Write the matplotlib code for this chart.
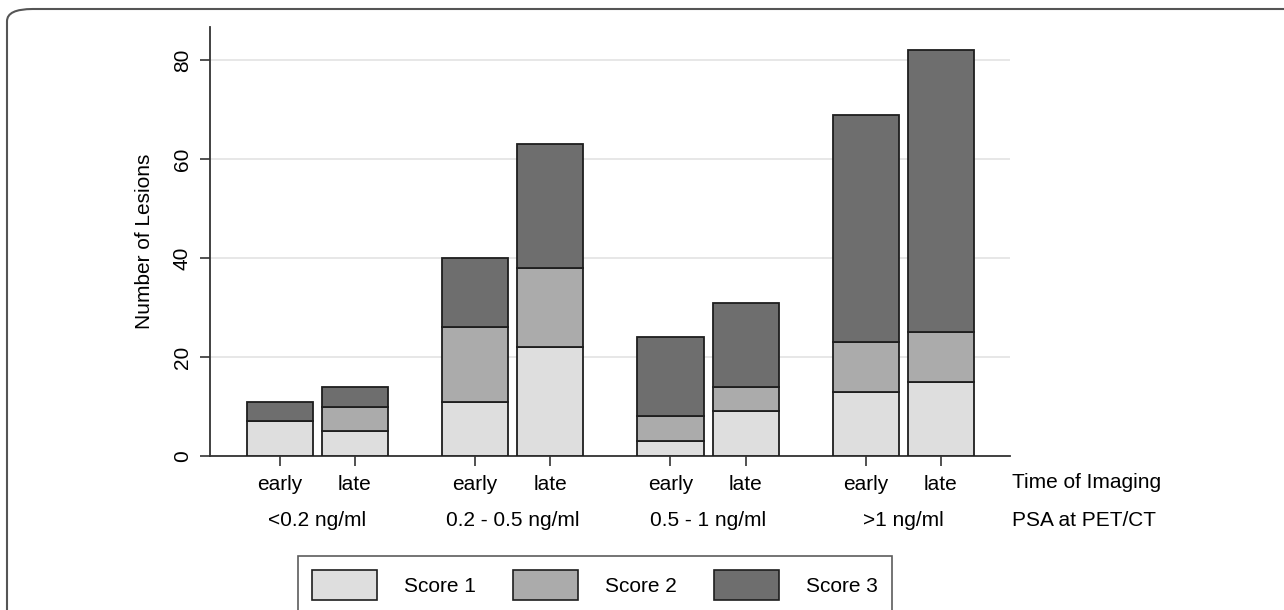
import numpy as np
import matplotlib
matplotlib.use("Agg")
from matplotlib import pyplot as plt
from matplotlib.patches import FancyBboxPatch, Patch
from matplotlib.transforms import blended_transform_factory

plt.rcParams['font.family'] = ['Liberation Sans', 'DejaVu Sans']
plt.rcParams['font.size'] = 15

# data
groups = ['<0.2 ng/ml', '0.2 - 0.5 ng/ml', '0.5 - 1 ng/ml', '>1 ng/ml']
times = ['early', 'late']
score1 = [7, 5, 11, 22, 3, 9, 13, 15]
score2 = [0, 5, 15, 16, 5, 5, 10, 10]
score3 = [4, 4, 14, 25, 16, 17, 46, 57]
score_names = ['Score 1', 'Score 2', 'Score 3']
score_colors = ['#dedede', '#ababab', '#6e6e6e']


def main():
    fig = plt.figure(figsize=(12.84, 6.10), dpi=100)
    ax = fig.add_axes([210/1284, 154/610, 800/1284, 429/610])

    # bar positions: pairs of bars, groups spaced apart
    pos = np.array([g*2.6 + j for g in range(len(groups)) for j in range(len(times))])
    s1 = np.array(score1)
    s2 = np.array(score2)
    s3 = np.array(score3)
    kw = dict(width=0.88, edgecolor='#1e1e1e', linewidth=1.3, zorder=3)
    ax.bar(pos, s1, color=score_colors[0], **kw)
    ax.bar(pos, s2, bottom=s1, color=score_colors[1], **kw)
    ax.bar(pos, s3, bottom=s1+s2, color=score_colors[2], **kw)

    ax.set_xlim(pos[0]-0.93, pos[-1]+0.92)
    ax.set_ylim(0, 86.7)
    ax.set_yticks([0, 20, 40, 60, 80])
    ax.set_yticklabels(['0', '20', '40', '60', '80'], rotation=90, va='center')
    ax.set_xticks(pos)
    ax.set_xticklabels(times*len(groups))
    ax.tick_params(axis='x', length=7, width=1.2, color='#333333', pad=7)
    ax.tick_params(axis='y', length=7, width=1.2, color='#333333', pad=6)
    ax.grid(axis='y', color='#e3e3e3', linewidth=1.2, zorder=0)
    for s in ['top', 'right']:
        ax.spines[s].set_visible(False)
    for s in ['left', 'bottom']:
        ax.spines[s].set_color('#333333')
        ax.spines[s].set_linewidth(1.3)
    ax.set_ylabel('Number of Lesions', labelpad=14)

    # group labels and row captions under the axis
    trans = blended_transform_factory(ax.transData, fig.transFigure)
    for g, name in enumerate(groups):
        xc = (pos[2*g] + pos[2*g+1]) / 2
        ax.text(xc, 1-520/610, name, transform=trans, ha='center', va='center')
    fig.text(1012/1284, 1-482/610, 'Time of Imaging', ha='left', va='center')
    fig.text(1012/1284, 1-520/610, 'PSA at PET/CT', ha='left', va='center')

    handles = [Patch(facecolor=c, edgecolor='#1e1e1e', linewidth=1.2) for c in score_colors]
    leg = fig.legend(handles, score_names, ncol=3, loc='center',
                     bbox_to_anchor=(595/1284, 1-585/610), frameon=True, fancybox=False,
                     handlelength=3.1, handleheight=1.8, handletextpad=1.3,
                     columnspacing=1.8, borderpad=0.7)
    leg.get_frame().set_edgecolor('#333333')
    leg.get_frame().set_linewidth(1.2)

    # outer rounded frame
    frame = FancyBboxPatch((7/1284, -0.2), 1.2, 1.2 - 9/610,
                           boxstyle='round,pad=0,rounding_size=0.02',
                           transform=fig.transFigure, facecolor='none',
                           edgecolor='#555555', linewidth=1.5, zorder=-1)
    fig.patches.append(frame)

    fig.savefig('out.png', dpi=100)


if __name__ == "__main__":
    main()
